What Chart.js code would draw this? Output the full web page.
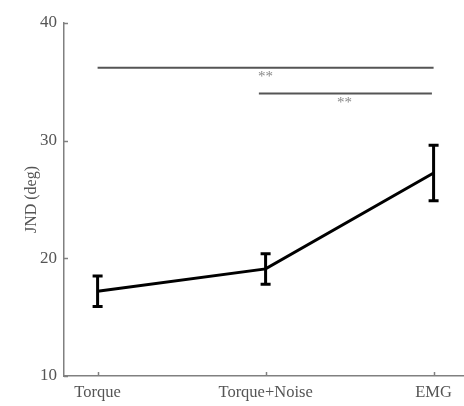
<!DOCTYPE html>
<html>
<head>
<style>
  html, body { margin: 0; padding: 0; background: #fff; }
  #wrap { width: 464px; height: 406px; }
</style>
</head>
<body>
<div id="wrap"><canvas id="chart" width="464" height="406"></canvas></div>
<script src="https://cdn.jsdelivr.net/npm/chart.js"></script>
<script>
const categories = ['Torque', 'Torque+Noise', 'EMG'];
const jndMean = [17.2, 19.1, 27.25];
const jndErr = [1.3, 1.3, 2.35];
const yTicks = [10, 20, 30, 40];

// significance brackets: [xStart, xEnd, y] and star label position
const sigLines = [[0, 2, 36.2], [0.96, 1.99, 34.0]];
const sigLabels = [[1.0, 35.6, '**'], [1.47, 33.4, '**']];

const serif = '"Liberation Serif", "DejaVu Serif", serif';

const extras = {
  id: 'extras',
  afterDatasetsDraw(chart) {
    const ctx = chart.ctx;
    const x = chart.scales.x, y = chart.scales.y;
    const area = chart.chartArea;
    ctx.save();
    // inward ticks
    ctx.strokeStyle = '#808080';
    ctx.lineWidth = 1.5;
    yTicks.forEach(v => {
      const py = Math.round(y.getPixelForValue(v)) + 0.5;
      ctx.beginPath();
      ctx.moveTo(area.left, py);
      ctx.lineTo(area.left + 4, py);
      ctx.stroke();
    });
    categories.forEach((c, i) => {
      const px = Math.round(x.getPixelForValue(i)) + 0.5;
      ctx.beginPath();
      ctx.moveTo(px, area.bottom);
      ctx.lineTo(px, area.bottom - 4);
      ctx.stroke();
    });
    // significance lines
    ctx.strokeStyle = '#555';
    ctx.lineWidth = 2;
    sigLines.forEach(s => {
      const py = y.getPixelForValue(s[2]);
      ctx.beginPath();
      ctx.moveTo(x.getPixelForValue(s[0]), py);
      ctx.lineTo(x.getPixelForValue(s[1]), py);
      ctx.stroke();
    });
    ctx.fillStyle = '#888';
    ctx.font = '15px ' + serif;
    ctx.textAlign = 'center';
    ctx.textBaseline = 'middle';
    sigLabels.forEach(s => {
      ctx.fillText(s[2], x.getPixelForValue(s[0]), y.getPixelForValue(s[1]) + 2);
    });
    // error bars
    ctx.strokeStyle = '#000';
    ctx.lineWidth = 3;
    jndMean.forEach((m, i) => {
      const px = x.getPixelForValue(i);
      const top = y.getPixelForValue(m + jndErr[i]);
      const bot = y.getPixelForValue(m - jndErr[i]);
      ctx.beginPath();
      ctx.moveTo(px, top); ctx.lineTo(px, bot);
      ctx.moveTo(px - 5, top); ctx.lineTo(px + 5, top);
      ctx.moveTo(px - 5, bot); ctx.lineTo(px + 5, bot);
      ctx.stroke();
    });
    ctx.restore();
  }
};

new Chart(document.getElementById('chart').getContext('2d'), {
  type: 'scatter',
  data: {
    datasets: [{
      data: jndMean.map((v, i) => ({ x: i, y: v })),
      showLine: true,
      borderColor: '#000',
      borderWidth: 3,
      pointRadius: 0,
      tension: 0
    }]
  },
  options: {
    responsive: false,
    animation: false,
    layout: { padding: { top: 23, right: 0, left: 0, bottom: 0 } },
    plugins: { legend: { display: false }, tooltip: { enabled: false } },
    scales: {
      x: {
        type: 'linear',
        min: -0.2,
        max: 2.181,
        afterBuildTicks(s) { s.ticks = categories.map((c, i) => ({ value: i })); },
        afterFit(s) { s.height = 30; },
        border: { color: '#808080', width: 1.5 },
        grid: { display: false, drawTicks: false },
        ticks: {
          callback: (v) => categories[v],
          color: '#555',
          padding: 7,
          maxRotation: 0,
          font: { family: serif, size: 16.5 }
        }
      },
      y: {
        min: 10,
        max: 40,
        afterBuildTicks(s) { s.ticks = yTicks.map(v => ({ value: v })); },
        afterFit(s) { s.width = 64; },
        border: { color: '#808080', width: 1.5 },
        grid: { display: false, drawTicks: false },
        ticks: {
          color: '#555',
          padding: 7,
          font: { family: serif, size: 17 }
        },
        title: {
          display: true,
          text: 'JND (deg)',
          color: '#555',
          padding: { top: 22, bottom: 0 },
          font: { family: serif, size: 16 }
        }
      }
    }
  },
  plugins: [extras]
});
</script>
</body>
</html>
